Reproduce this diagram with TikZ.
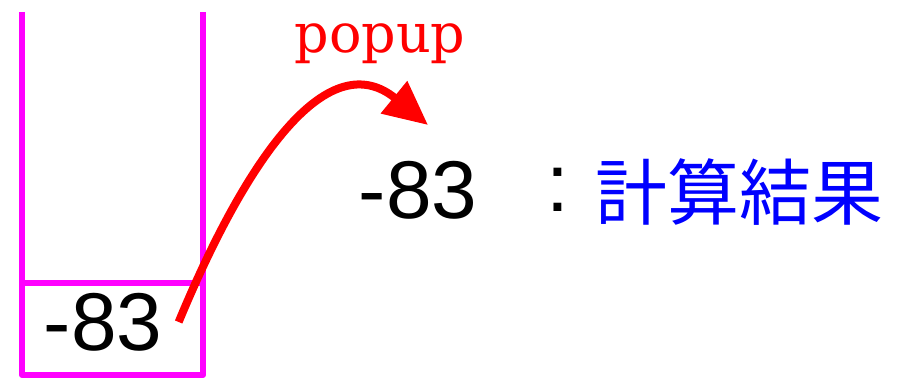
\documentclass[tikz,border=0pt]{standalone}
\usepackage{fontspec}
\setmainfont{DejaVu Serif}
\setsansfont{Liberation Sans}
\newfontfamily\cjkfont{Noto Sans CJK JP}
\usetikzlibrary{arrows.meta,positioning}
\definecolor{stackmag}{RGB}{255,0,255}

\begin{document}
\begin{tikzpicture}[
        x=0.5pt, y=-0.5pt,
        stackline/.style={draw=stackmag, line width=3pt, line join=round},
        num/.style={font=\sffamily\fontsize{41}{49}\selectfont, inner sep=8pt},
        opname/.style={font=\rmfamily\fontsize{27}{32}\selectfont, text=red},
        cjk/.style={font=\cjkfont\fontsize{36}{43}\selectfont, inner sep=0pt},
        arrow/.style={-{Triangle[length=22pt,width=20pt]}, line width=4pt, red}
    ]
        \useasboundingbox (0,0) rectangle (899,390);

        % Stack
        \draw[stackline] (22,12) -- (22,375) -- (203,375) -- (203,12);
        \draw[stackline] (22,283) -- (203,283);
        \node[num] (cell) at (103,322) {-83};

        % Result
        \node[num] (res) at (418,190) {-83};
        \node[num, inner sep=0pt] (colon) at (558,190) {:};
        \node[cjk, text=blue, anchor=west] (meaning) at (595,192) {計算結果};

        % Popup
        \coordinate (tip) at (428,125);
        \node[opname, anchor=base] (pop) at (380,53) {popup};
        \draw[arrow] (cell.east) .. controls (250,150) and (330,45) .. (tip);

    \end{tikzpicture}
\end{document}
